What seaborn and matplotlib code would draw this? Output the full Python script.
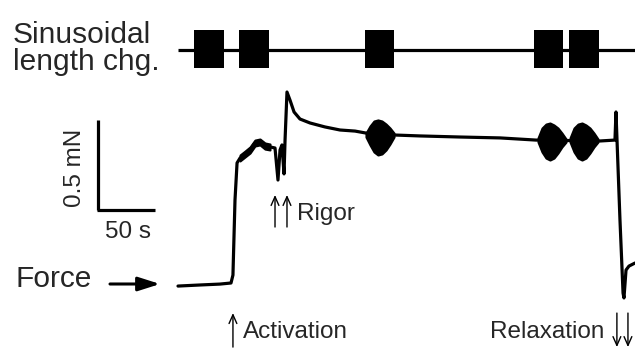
import matplotlib
matplotlib.use("Agg")
import matplotlib.pyplot as plt
import seaborn as sns
import numpy as np
import pandas as pd

# ---------------- data (time in s, force in mN) ----------------
trace_t = [0.0, 19.3, 36.8, 46.5, 48.2, 50.0, 51.8, 54.4, 58.8, 63.2, 67.5, 71.9,
           76.3, 80.7, 85.1, 87.7, 89.5, 91.2, 93.0, 93.9, 95.6, 98.2, 101.8,
           107.0, 115.8, 128.9, 142.1, 155.3, 164.9, 190.4, 212.3, 247.4, 282.5,
           314.0, 370.2, 383.3, 384.2, 385.1, 387.7, 390.4, 391.2, 393.0, 395.6,
           400.9]
trace_f = [-0.017, -0.011, -0.006, 0.0, 0.044, 0.461, 0.667, 0.694, 0.717, 0.739,
           0.778, 0.783, 0.761, 0.756, 0.750, 0.572, 0.739, 0.767, 0.606, 0.794,
           1.061, 1.017, 0.950, 0.911, 0.889, 0.867, 0.850, 0.844, 0.833, 0.822,
           0.817, 0.811, 0.806, 0.794, 0.789, 0.794, 0.950, 0.794, 0.350, -0.056,
           -0.083, 0.072, 0.094, 0.111]

# oscillation bursts (envelopes of force during sinusoidal length changes)
burst_p_t = [54.4, 58.8, 63.2, 67.5, 71.9, 76.3, 80.7]
burst_p_hi = [0.711, 0.733, 0.756, 0.794, 0.800, 0.778, 0.772]
burst_p_lo = [0.678, 0.700, 0.722, 0.761, 0.767, 0.744, 0.739]
burst_a_t = [164.9, 168.4, 171.9, 175.4, 178.9, 182.5, 186.0, 189.5]
burst_a_hi = [0.833, 0.872, 0.900, 0.906, 0.900, 0.883, 0.861, 0.833]
burst_a_lo = [0.811, 0.767, 0.728, 0.711, 0.717, 0.739, 0.772, 0.811]
burst_b_t = [315.8, 319.3, 322.8, 326.3, 329.8, 333.3, 336.8, 340.4]
burst_b_hi = [0.806, 0.861, 0.883, 0.889, 0.878, 0.861, 0.833, 0.800]
burst_b_lo = [0.783, 0.728, 0.694, 0.683, 0.694, 0.722, 0.756, 0.783]
burst_c_t = [343.9, 347.4, 350.9, 354.4, 357.9, 361.4, 364.9, 368.4]
burst_c_hi = [0.806, 0.861, 0.883, 0.889, 0.878, 0.861, 0.833, 0.800]
burst_c_lo = [0.783, 0.728, 0.694, 0.683, 0.694, 0.722, 0.756, 0.783]

# sinusoidal length change periods (s)
sine_start = [14.0, 53.5, 164.0, 312.3, 343.0]
sine_end = [40.4, 79.8, 189.5, 337.7, 369.3]
length_span = [0.0, 400.9]

# events (s)
rigor_times = [85.1, 95.6]
activation_times = [48.2]
relaxation_times = [385.0, 394.7]

# scale bar
bar_time = 50.0   # s
bar_force = 0.5   # mN

# ---------------- figure ----------------
W, H = 635, 348
fig = plt.figure(figsize=(W / 100, H / 100), dpi=100)
sns.set_style("white")
plt.rcParams['font.family'] = ['Liberation Sans', 'DejaVu Sans']

ax = fig.add_axes([0, 0, 1, 1])
ax.set_xlim(-156.14, 400.88)
ax.set_ylim(-0.3611, 1.5722)
ax.axis("off")

df = pd.DataFrame({"t": trace_t, "F": trace_f})
sns.lineplot(data=df, x="t", y="F", ax=ax, color="black", linewidth=2.3,
             estimator=None, sort=False)
for bt, hi, lo in [(burst_p_t, burst_p_hi, burst_p_lo),
                   (burst_a_t, burst_a_hi, burst_a_lo),
                   (burst_b_t, burst_b_hi, burst_b_lo),
                   (burst_c_t, burst_c_hi, burst_c_lo)]:
    ax.fill_between(bt, lo, hi, color="black", linewidth=1.5, edgecolor="black")

# scale bar
sb_t0, sb_f0 = -70.2, 0.4056
ax.plot([sb_t0, sb_t0], [sb_f0, sb_f0 + bar_force], color="black", lw=2.3,
        solid_capstyle="butt")
ax.plot([sb_t0 - 0.8, sb_t0 + bar_time], [sb_f0, sb_f0], color="black", lw=2.3,
        solid_capstyle="butt")

# length change row
ax2 = fig.add_axes([0, 0, 1, 1], sharex=ax)
ax2.set_ylim(-15.74, 2.579)
ax2.axis("off")
ax2.patch.set_alpha(0)
ax2.plot(length_span, [-0.05, -0.05], color="black", lw=2.3, solid_capstyle="butt")
ax2.bar(sine_start, 2.0, width=np.array(sine_end) - np.array(sine_start),
        bottom=-1.0, align="edge", color="black", linewidth=0)


def px(x, y):
    return x / W, 1 - y / H


fs_big = 21.5
fs_small = 17.5
fig.text(*px(13, 43), "Sinusoidal", fontsize=fs_big, ha="left", va="baseline")
fig.text(*px(13, 70), "length chg.", fontsize=fs_big, ha="left", va="baseline")
fig.text(*px(15, 287), "Force", fontsize=fs_big, ha="left", va="baseline")
fig.text(*px(75, 168), "0.5 mN", fontsize=fs_small, ha="center", va="center",
         rotation=90)
fig.text(*px(128, 238), "50 s", fontsize=fs_small, ha="center", va="baseline")
fig.text(*px(297, 220), "Rigor", fontsize=fs_small, ha="left", va="baseline")
fig.text(*px(243, 338), "Activation", fontsize=fs_small, ha="left", va="baseline")
fig.text(*px(490, 338), "Relaxation", fontsize=fs_small, ha="left", va="baseline")

# force arrow
fig.patches.append(matplotlib.patches.FancyArrowPatch(
    px(110, 284), px(160, 284), transform=fig.transFigure,
    arrowstyle="-|>,head_length=1.1,head_width=0.35", mutation_scale=12,
    color="black", lw=2.2, shrinkA=0, shrinkB=0))

thin = dict(arrowstyle="->,head_length=0.45,head_width=0.2", lw=1.0,
            color="black", shrinkA=0, shrinkB=0, mutation_scale=14)
for t in rigor_times:
    ax.annotate("", xy=(t, 0.489), xytext=(t, 0.311), arrowprops=thin)
for t in activation_times:
    ax.annotate("", xy=(t, -0.167), xytext=(t, -0.356), arrowprops=thin)
for t in relaxation_times:
    ax.annotate("", xy=(t, -0.356), xytext=(t, -0.167), arrowprops=thin)

fig.savefig("out.png", dpi=100)
